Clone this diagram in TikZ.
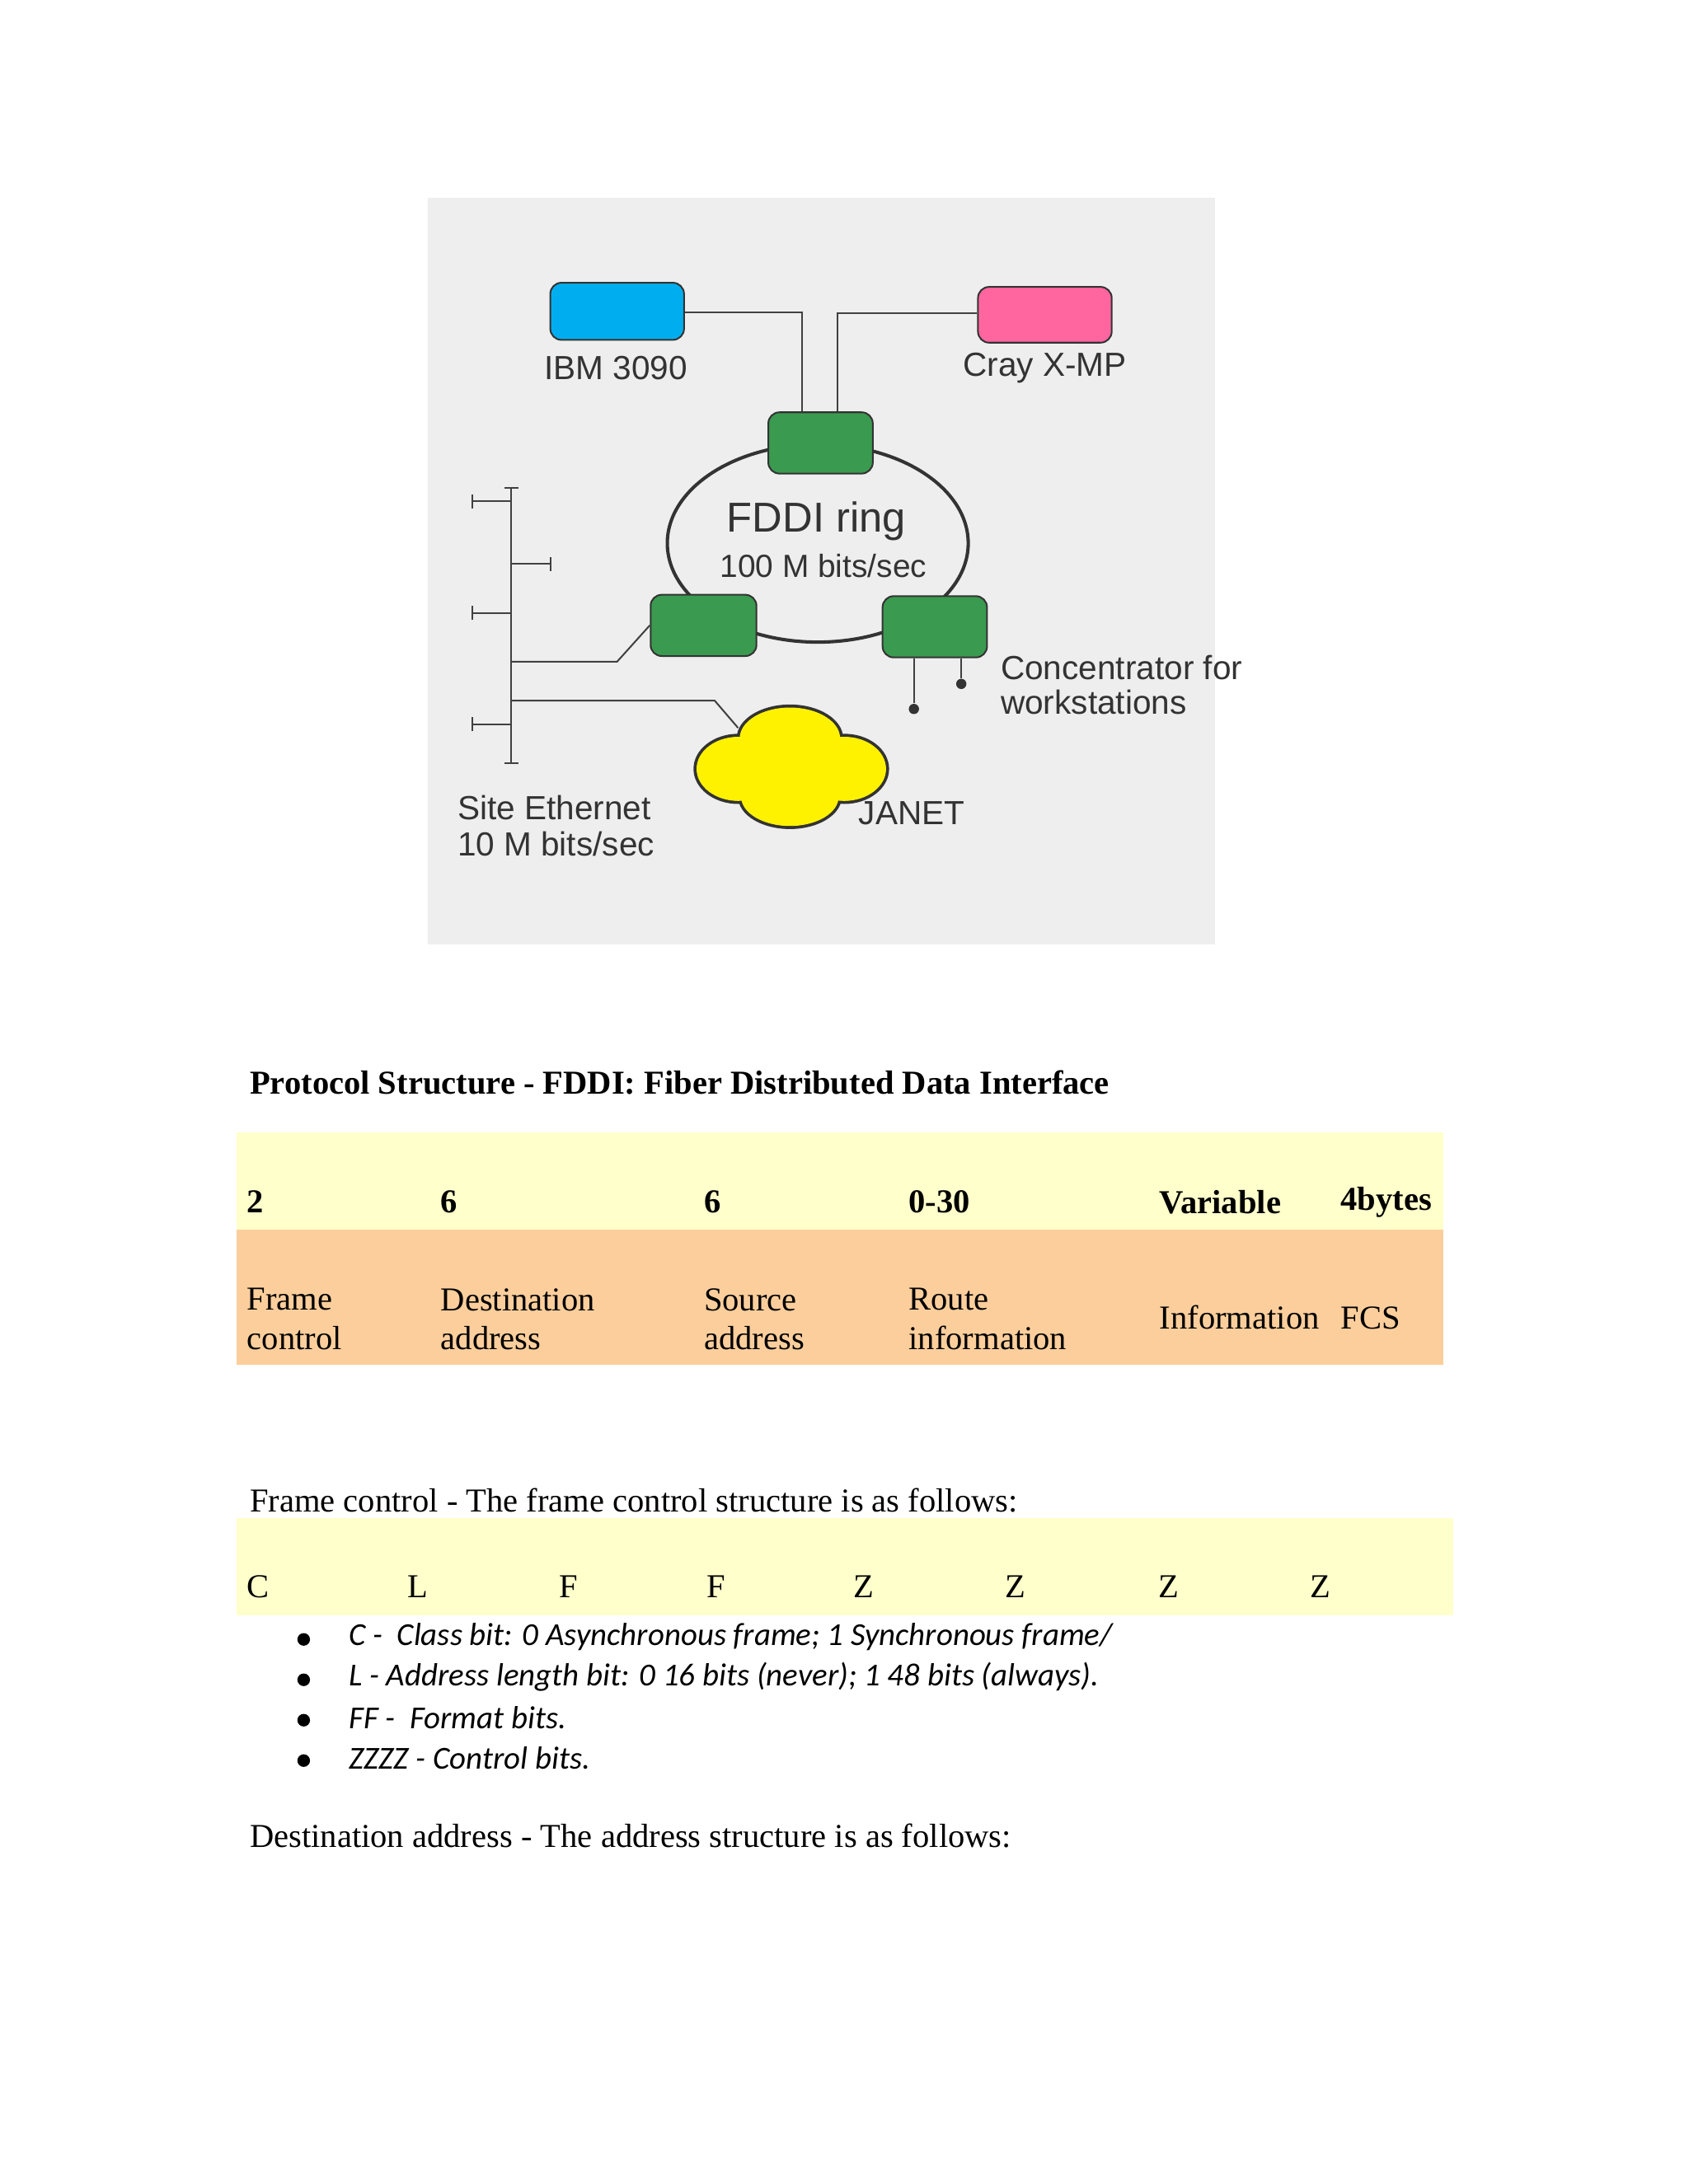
\documentclass[tikz,border=0pt]{standalone}
\usepackage{fontspec}
\setmainfont{Liberation Serif}
\newfontfamily\diagfont{Liberation Sans}
\newfontfamily\bulfont{Carlito}
\definecolor{gbox}{RGB}{58,154,80}
\definecolor{obox}{RGB}{251,206,156}
\definecolor{ybox}{RGB}{255,255,204}
\definecolor{ibmc}{RGB}{0,174,239}
\definecolor{crayc}{RGB}{255,102,160}
\definecolor{bgc}{RGB}{238,238,238}
\begin{document}
\begin{tikzpicture}[x=0.5pt,y=-0.5pt,
  box/.style={draw=black!80,line width=0.6pt,rounded corners=4pt},
  wire/.style={draw=black!75,line width=0.6pt},
  dlabel/.style={font=\diagfont\fontsize{12}{14}\selectfont,text=black!80,inner sep=0},
  ser/.style={font=\fontsize{12}{14}\selectfont,anchor=west,inner sep=0},
  serb/.style={font=\bfseries\fontsize{12}{14}\selectfont,anchor=west,inner sep=0},
  bul/.style={font=\bulfont\itshape\fontsize{11.5}{13}\selectfont,anchor=west,inner sep=0}]
\useasboundingbox (0,0) rectangle (1212,1568);
\fill[white] (0,0) rectangle (1212,1568);
% diagram
\fill[bgc] (307,142) rectangle (872,678);
\draw[line width=1.2pt,black!80] (587,390) ellipse [x radius=108,y radius=71];
\node[box,fill=ibmc,minimum width=48pt,minimum height=20.5pt] (ibm) at (443,223.5) {};
\node[box,fill=crayc,minimum width=48pt,minimum height=20pt] (cray) at (750,226) {};
\node[box,fill=gbox,minimum width=37.5pt,minimum height=22pt] (gtop) at (589,318) {};
\node[box,fill=gbox,minimum width=38pt,minimum height=22pt] (gll) at (505,449) {};
\node[box,fill=gbox,minimum width=37.5pt,minimum height=22pt] (glr) at (671,450) {};
\node[dlabel] (ibml) at (442,264) {IBM 3090};
\node[dlabel] (crayl) at (750,264) {Cray X-MP};
\node[dlabel,font=\diagfont\fontsize{15}{17}\selectfont] (ring) at (586,374) {FDDI ring};
\node[dlabel,font=\diagfont\fontsize{11.5}{14}\selectfont] (speed) at (591,406) {100 M bits/sec};
\coordinate (c1) at (576,224);
\coordinate (c2) at (601,225);
\draw[wire] (ibm.east |- c1) -- (c1) -- (c1 |- gtop.north);
\draw[wire] (cray.west |- c2) -- (c2) -- (c2 |- gtop.north);
% ethernet
\coordinate (et) at (367,350);
\coordinate (eb) at (367,548);
\draw[wire] (et) -- (eb);
\draw[wire] (362,350) -- (372,350) (362,548) -- (372,548);
\draw[wire] (339,360) -- (367,360) (339,355) -- (339,365);
\draw[wire] (367,405) -- (395,405) (395,400) -- (395,410);
\draw[wire] (339,440) -- (367,440) (339,435) -- (339,445);
\draw[wire] (339,520) -- (367,520) (339,515) -- (339,525);
\coordinate (k1) at (443,475);
\draw[wire] (367,475) -- (k1) -- (gll.west);
\coordinate (k2) at (513,503);
% cloud
\path[draw=black!80,line width=1.2pt] (530,552) ellipse [x radius=31,y radius=24] (606,552) ellipse [x radius=31,y radius=24] (567,530) ellipse [x radius=37,y radius=23] (567,572) ellipse [x radius=36,y radius=22];
\path[fill=yellow] (530,552) ellipse [x radius=30,y radius=23] (606,552) ellipse [x radius=30,y radius=23] (567,530) ellipse [x radius=36,y radius=22] (567,572) ellipse [x radius=35,y radius=21] (567,551) ellipse [x radius=50,y radius=25];
\node[inner sep=0] (janet) at (531,524) {};
\draw[wire] (367,503) -- (k2) -- (janet);
\node[dlabel,anchor=west] (janetl) at (616,584) {JANET};
% concentrator
\node[circle,fill=black!80,inner sep=1.3pt] (d1) at (656,509) {};
\node[circle,fill=black!80,inner sep=1.3pt] (d2) at (690,491) {};
\draw[wire] (d1 |- glr.south) -- (d1);
\draw[wire] (d2 |- glr.south) -- (d2);
\node[dlabel,anchor=west] (conc1) at (718,479) {Concentrator for};
\node[dlabel,anchor=west] (conc2) at (718,504) {workstations};
\node[dlabel,anchor=west] (site1) at (328,580) {Site Ethernet};
\node[dlabel,anchor=west] (site2) at (328,606) {10 M bits/sec};
% text part
\node[serb] (title) at (179,777) {Protocol Structure - FDDI: Fiber Distributed Data Interface};
\fill[ybox] (170,813) rectangle (1036,883);
\fill[obox] (170,883) rectangle (1036,980);
\foreach \x/\t [count=\i] in {177/2,316/6,505/6,652/0-30,832/Variable,962/4bytes}
  \node[serb] (n\i) at (\x,863) {\t};
\node[ser,align=left] (l1) at (177,947) {Frame\\control};
\node[ser,align=left] (l2) at (316,947) {Destination\\address};
\node[ser,align=left] (l3) at (505,947) {Source\\address};
\node[ser,align=left] (l4) at (652,947) {Route\\information};
\node[ser] (l5) at (832,946) {Information};
\node[ser] (l6) at (962,946) {FCS};
\node[ser] (fc) at (179,1077) {Frame control - The frame control structure is as follows:};
\fill[ybox] (170,1090) rectangle (1043,1160);
\foreach \x/\t [count=\i] in {177/C,292/L,401/F,507/F,612/Z,721/Z,831/Z,940/Z}
  \node[ser] (b\i) at (\x,1139) {\t};
\foreach \y/\t [count=\i] in {1175/{C -\ \ Class bit: 0 Asynchronous frame; 1 Synchronous frame/},1204/{L - Address length bit: 0 16 bits (never); 1 48 bits (always).},1233/{FF -\ \ Format bits.},1262/{ZZZZ - Control bits.}}{
  \node[circle,fill=black,inner sep=1.6pt] (dot\i) at (218,\y+2) {};
  \node[bul] (t\i) at (250,\y) {\t};}
\node[ser] (da) at (179,1318) {Destination address - The address structure is as follows:};
\end{tikzpicture}
\end{document}
